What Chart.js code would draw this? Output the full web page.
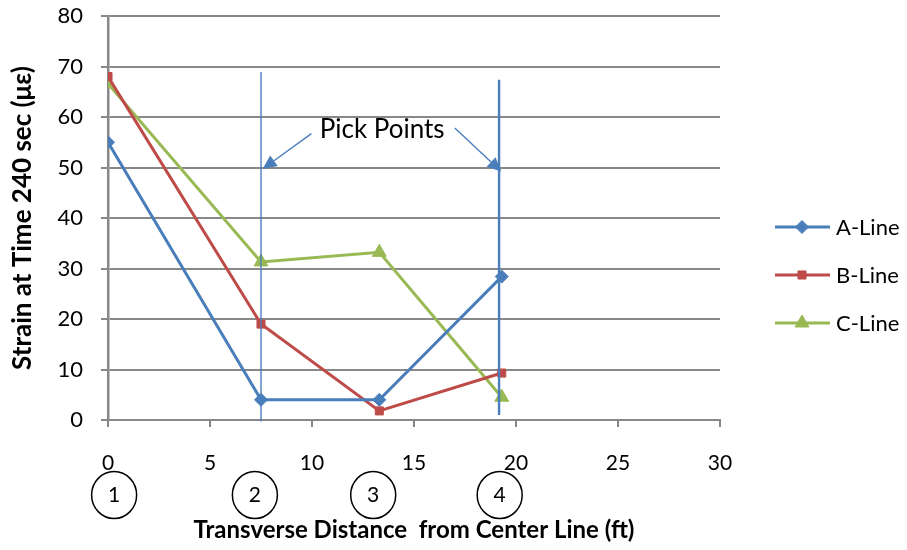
<!DOCTYPE html>
<html>
<head>
<meta charset="utf-8">
<script src="https://cdn.jsdelivr.net/npm/chart.js@4.4.1/dist/chart.umd.min.js"></script>
<style>
  body { margin: 0; background: #fff; }
  #wrap { width: 907px; height: 550px; }
</style>
</head>
<body>
<div id="wrap"><canvas id="canvasStrain" width="907" height="550"></canvas></div>
<script>
// transverse distance (ft) of the gauges
const distances = [0, 7.5, 13.3, 19.3];
// strain at 240 sec (microstrain)
const aLine = [55, 4, 4, 28.4];
const bLine = [68, 19, 1.8, 9.3];
const cLine = [66.6, 31.3, 33.2, 4.5];
const seriesNames = ['A-Line', 'B-Line', 'C-Line'];

const xTicks = [0, 5, 10, 15, 20, 25, 30];
const yTicks = [0, 10, 20, 30, 40, 50, 60, 70, 80];

// gauge number bubbles under the axis
const gaugeLabels = ['1', '2', '3', '4'];
const gaugeX = [0.3, 7.2, 13.0, 19.2];

// pick point markers (data units)
const pickLineX = [7.5, 19.17];
const pickLineTop = [68.9, 67.4];
const pickLineBottom = [-0.3, 1.0];
const arrowTail = [[9.97, 56.7], [17.0, 57.8]];
const arrowHead = [[7.58, 49.7], [19.28, 49.2]];
const pickText = 'Pick Points';
const pickTextAt = [13.44, 57.5];

const FONT = 'Lato, "Open Sans", sans-serif';
const colors = ['#4A7EBB', '#BE4B48', '#98B954'];
const markers = [
  { style: 'rectRot', r: 6.5 },
  { style: 'rect', r: 5.7 },
  { style: 'triangle', r: 8 }
];

function toPoints(ys) {
  return distances.map((d, i) => ({ x: d, y: ys[i] }));
}

function drawArrow(ctx, x1, y1, x2, y2) {
  const ang = Math.atan2(y2 - y1, x2 - x1);
  const len = 14, half = 6.5;
  const bx = x2 - Math.cos(ang) * len, by = y2 - Math.sin(ang) * len;
  ctx.beginPath();
  ctx.moveTo(x1, y1);
  ctx.lineTo(bx, by);
  ctx.stroke();
  ctx.beginPath();
  ctx.moveTo(x2, y2);
  ctx.lineTo(bx + Math.sin(ang) * half, by - Math.cos(ang) * half);
  ctx.lineTo(bx - Math.sin(ang) * half, by + Math.cos(ang) * half);
  ctx.closePath();
  ctx.fill();
}

const pickPoints = {
  id: 'pickPoints',
  afterDatasetsDraw(chart) {
    const { ctx, scales: { x, y } } = chart;
    ctx.save();
    ctx.strokeStyle = '#4A7EBB';
    ctx.fillStyle = '#4A7EBB';
    pickLineX.forEach((px, i) => {
      ctx.lineWidth = i === 0 ? 1.4 : 2.4;
      ctx.beginPath();
      ctx.moveTo(x.getPixelForValue(px), y.getPixelForValue(pickLineTop[i]));
      ctx.lineTo(x.getPixelForValue(px), y.getPixelForValue(pickLineBottom[i]));
      ctx.stroke();
    });
    ctx.lineWidth = 1.4;
    arrowTail.forEach((t, i) => {
      const h = arrowHead[i];
      drawArrow(ctx, x.getPixelForValue(t[0]), y.getPixelForValue(t[1]),
                x.getPixelForValue(h[0]), y.getPixelForValue(h[1]));
    });
    ctx.fillStyle = '#000';
    ctx.font = '26px ' + FONT;
    ctx.textAlign = 'center';
    ctx.textBaseline = 'middle';
    ctx.fillText(pickText, x.getPixelForValue(pickTextAt[0]), y.getPixelForValue(pickTextAt[1]));
    ctx.restore();
  },
  afterDraw(chart) {
    const { ctx, chartArea, scales: { x } } = chart;
    ctx.save();
    // numbered gauges
    ctx.strokeStyle = '#000';
    ctx.lineWidth = 1.5;
    ctx.fillStyle = '#000';
    ctx.font = '21px ' + FONT;
    ctx.textAlign = 'center';
    ctx.textBaseline = 'middle';
    gaugeLabels.forEach((lab, i) => {
      const cx = x.getPixelForValue(gaugeX[i]);
      const cy = chartArea.bottom + 75;
      ctx.beginPath();
      ctx.ellipse(cx, cy, 22.5, 23.5, 0, 0, Math.PI * 2);
      ctx.stroke();
      ctx.fillText(lab, cx, cy);
    });
    // legend
    const lx = chartArea.right + 55;
    const ly = 227;
    ctx.textAlign = 'left';
    ctx.font = '22px ' + FONT;
    seriesNames.forEach((name, i) => {
      const yy = ly + i * 48;
      ctx.strokeStyle = colors[i];
      ctx.fillStyle = colors[i];
      ctx.lineWidth = 3;
      ctx.beginPath();
      ctx.moveTo(lx, yy);
      ctx.lineTo(lx + 55, yy);
      ctx.stroke();
      ctx.lineWidth = 1;
      Chart.helpers.drawPoint(ctx, { pointStyle: markers[i].style, radius: markers[i].r, borderWidth: 1, rotation: 0 }, lx + 27, yy);
      ctx.fillStyle = '#000';
      ctx.fillText(name, lx + 61, yy + 1);
    });
    ctx.restore();
  }
};

const ctx = document.getElementById('canvasStrain').getContext('2d');
const canvasStrain = new Chart(ctx, {
  type: 'scatter',
  data: {
    datasets: [aLine, bLine, cLine].map((ys, i) => ({
      label: seriesNames[i],
      data: toPoints(ys),
      showLine: true,
      borderColor: colors[i],
      backgroundColor: colors[i],
      borderWidth: 3,
      pointStyle: markers[i].style,
      pointRadius: markers[i].r,
      pointBorderWidth: 1,
      tension: 0
    }))
  },
  options: {
    responsive: false,
    animation: false,
    layout: { padding: { top: 0, right: 187, bottom: 0, left: 0 } },
    plugins: { legend: { display: false }, tooltip: { enabled: false } },
    scales: {
      x: {
        type: 'linear',
        min: 0, max: 30,
        afterBuildTicks: s => { s.ticks = xTicks.map(v => ({ value: v })); },
        afterFit: s => { s.height = 130; },
        grid: { drawOnChartArea: false, drawTicks: true, tickLength: 7, color: '#888', lineWidth: 2 },
        border: { color: '#888', width: 2 },
        ticks: { color: '#000', font: { family: FONT, size: 21 }, padding: 24, maxRotation: 0 },
        title: {
          display: true,
          text: 'Transverse Distance  from Center Line (ft)',
          color: '#000',
          font: { family: FONT, size: 24, weight: 'bold' },
          padding: { top: 0, bottom: 5.6 }
        }
      },
      y: {
        min: 0, max: 80,
        afterBuildTicks: s => { s.ticks = yTicks.map(v => ({ value: v })); },
        afterFit: s => { s.width = 108; s.paddingTop = 16; },
        grid: { color: '#888', lineWidth: 2, tickLength: 7 },
        border: { color: '#888', width: 2.5 },
        ticks: { color: '#000', font: { family: FONT, size: 22 }, padding: 18 },
        title: {
          display: true,
          text: 'Strain at Time 240 sec (\u03bc\u03b5)',
          color: '#000',
          font: { family: FONT, size: 26, weight: 'bold' },
          padding: { top: 7, bottom: 0 }
        }
      }
    }
  },
  plugins: [pickPoints]
});
</script>
</body>
</html>
